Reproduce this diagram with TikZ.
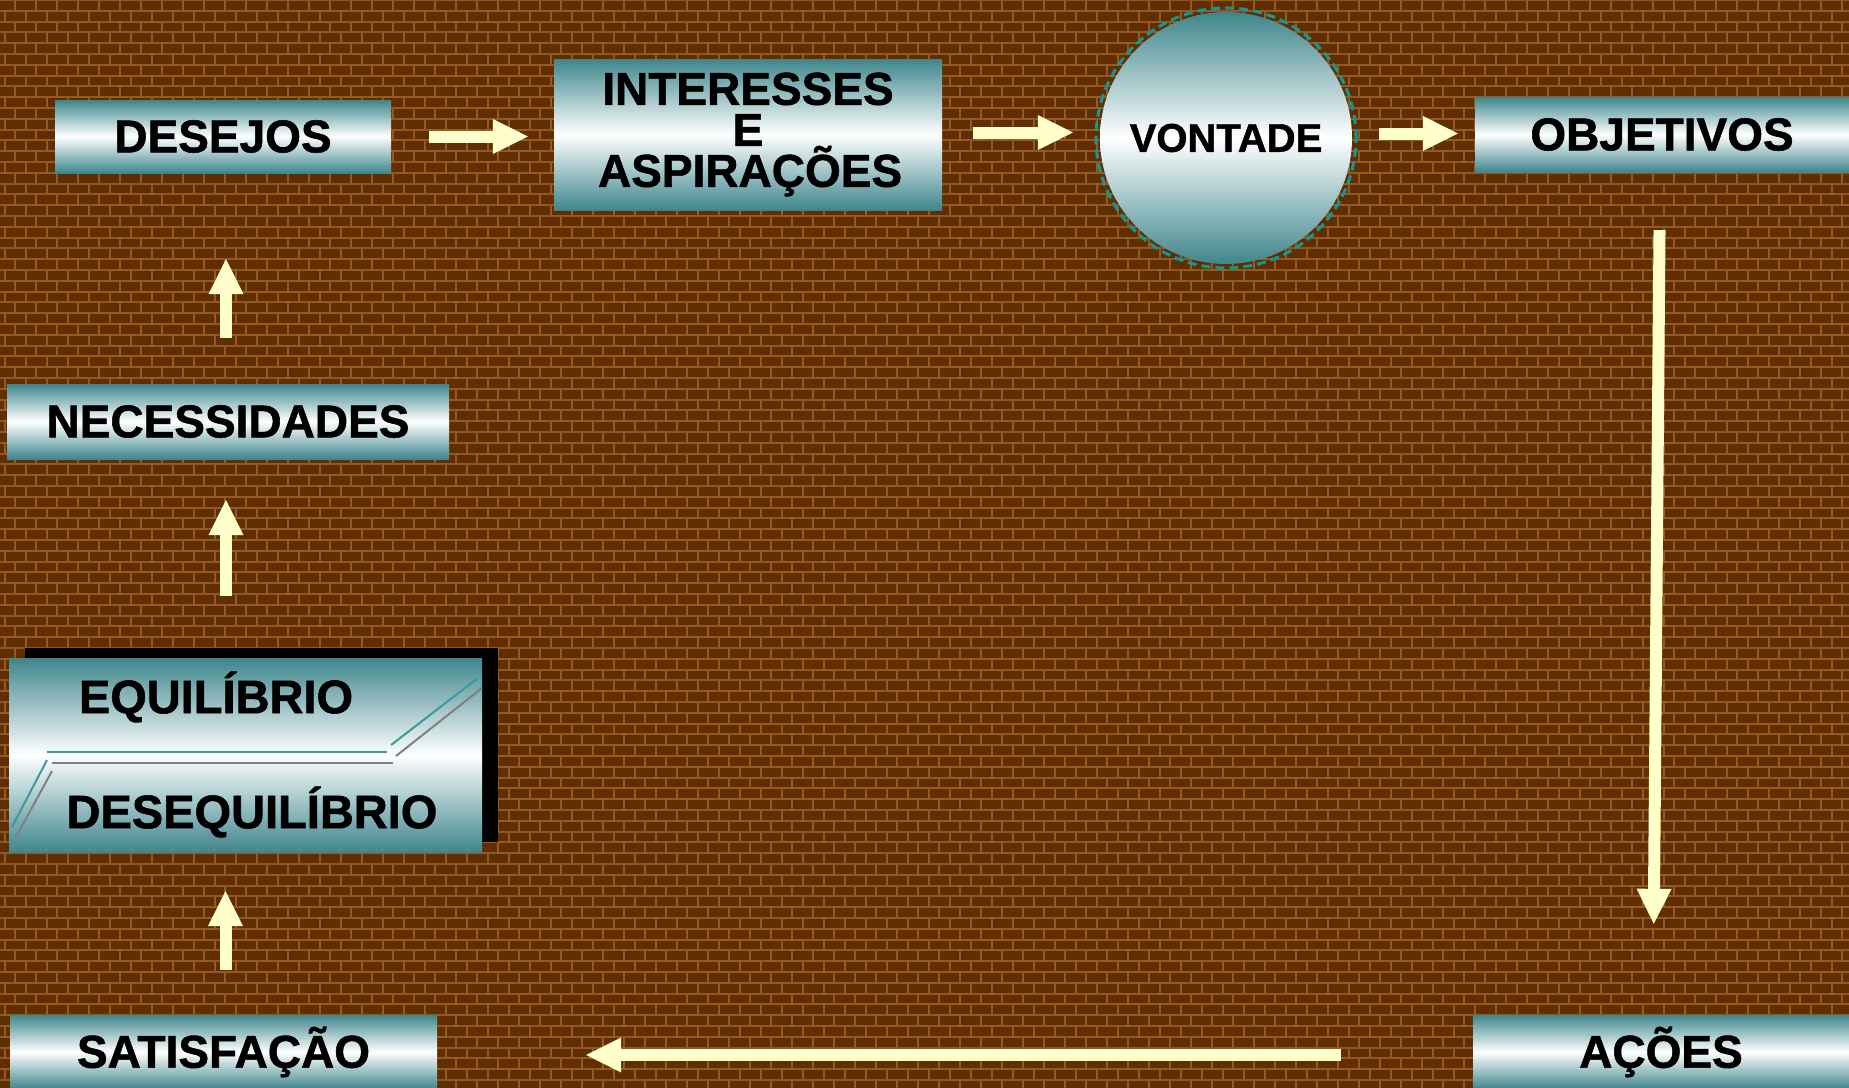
\documentclass[tikz,border=0pt]{standalone}
\usepackage{fontspec}
\setmainfont{Liberation Sans}[BoldFeatures={FakeBold=1.2}]
\usetikzlibrary{calc, arrows.meta, shadows}

\definecolor{tijolo}{RGB}{96,46,0}
\definecolor{argamassa}{RGB}{148,90,36}
\definecolor{petroleo}{RGB}{62,134,140}
\definecolor{creme}{RGB}{255,255,204}
\definecolor{tracejado}{RGB}{20,150,150}
\definecolor{linhaazul}{RGB}{58,154,160}

\tikzset{
    caixa/.style={rectangle, inner sep=0pt, top color=petroleo, bottom color=petroleo, middle color=white,
        font=\bfseries\fontsize{46}{41}\selectfont, align=center},
    seta/.style={draw=creme, line width=12pt, -{Triangle[length=35pt, width=35pt, line width=0pt, fill=creme]}},
    rotulo/.style={inner sep=0pt, font=\bfseries\fontsize{47}{42}\selectfont},
}

\begin{document}
\begin{tikzpicture}[x=1pt, y=-1pt]

    \useasboundingbox (0,0) rectangle (1849,1087);

    % brick wall
    \fill[argamassa] (-5,-5) rectangle (1854,1100);
    \foreach \r in {0,...,101}{
        \pgfmathsetmacro\fase{mod(\r,2)*10.5}
        \draw[tijolo, line width=8.9pt, dash pattern=on 19.2pt off 1.8pt, dash phase=\fase pt]
            (-5,\r*10.8+5.4) -- (1854,\r*10.8+5.4);
    }

    % top row
    \node[caixa, minimum width=336pt, minimum height=73pt] (desejos) at (223,136.5) {DESEJOS};
    \node[caixa, minimum width=388pt, minimum height=151pt] (interesses) at (748,134.5) {\raisebox{-3pt}{\parbox{300pt}{\centering INTERESSES\\E\\ASPIRAÇÕES}}};
    \node[caixa, circle, minimum size=252pt, font=\bfseries\fontsize{40}{42}\selectfont] (vontade) at (1226,138) {VONTADE};
    \draw[tracejado, line width=3pt, dash pattern=on 9pt off 5pt] (vontade.center) circle[radius=130pt];
    \node[caixa, minimum width=374pt, minimum height=75pt] (objetivos) at (1662,134.5) {OBJETIVOS};

    % left column
    \node[caixa, minimum width=442pt, minimum height=75pt] (necessidades) at (228,421.5) {NECESSIDADES};
    \node[caixa, minimum width=473pt, minimum height=194pt,
        drop shadow={shadow xshift=16pt, shadow yshift=10pt, fill=black, opacity=1}] (equilibrio) at (245.5,755) {};
    \node[rotulo] (eqtxt) at (216,697) {EQUILÍBRIO};
    \node[rotulo] (deseqtxt) at (252,812) {DESEQUILÍBRIO};

    %split lines
    \draw[linhaazul, line width=2pt] (12,827) -- (47,760);
    \draw[linhaazul, line width=2pt] (47,752) -- (387,752);
    \draw[linhaazul, line width=2pt] (391,745) -- (478,678);
    \draw[gray, line width=2pt] (16,837) -- (52,771);
    \draw[gray, line width=2pt] (52,763) -- (393,763);
    \draw[gray, line width=2pt] (396,756) -- (482,688);

    % bottom row
    \node[caixa, minimum width=427pt, minimum height=74pt] (satisfacao) at (223.5,1052) {SATISFAÇÃO};
    \node[caixa, minimum width=376pt, minimum height=74pt] (acoes) at (1661,1052) {AÇÕES};

    % arrows
    \draw[seta, shorten <=38pt, shorten >=26pt] (desejos.east) -- (desejos.east -| interesses.west);
    \draw[seta, shorten <=31pt, shorten >=27pt] ([yshift=2pt]interesses.east) -- ([yshift=2pt]interesses.east -| vontade.west);
    \draw[seta, shorten <=27pt, shorten >=17pt] ([yshift=1pt]objetivos.west -| vontade.east) -- ([yshift=1pt]objetivos.west);
    \draw[seta, shorten <=58pt, shorten >=91pt] ([xshift=-2pt]objetivos.south) -- ([xshift=-8pt]acoes.north);
    \draw[seta, shorten <=132pt, shorten >=149pt] ([yshift=-3pt]acoes.west) -- ([yshift=-3pt]acoes.west -| satisfacao.east);
    \draw[seta, shorten <=45pt, shorten >=39pt] ([xshift=2pt]satisfacao.north) -- ([xshift=2pt]satisfacao.north |- equilibrio.south);
    \draw[seta, shorten <=62pt, shorten >=41pt] ([xshift=-2pt]necessidades.south |- equilibrio.north) -- ([xshift=-2pt]necessidades.south);
    \draw[seta, shorten <=46pt, shorten >=86pt] ([xshift=3pt]desejos.south |- necessidades.north) -- ([xshift=3pt]desejos.south);

\end{tikzpicture}
\end{document}
